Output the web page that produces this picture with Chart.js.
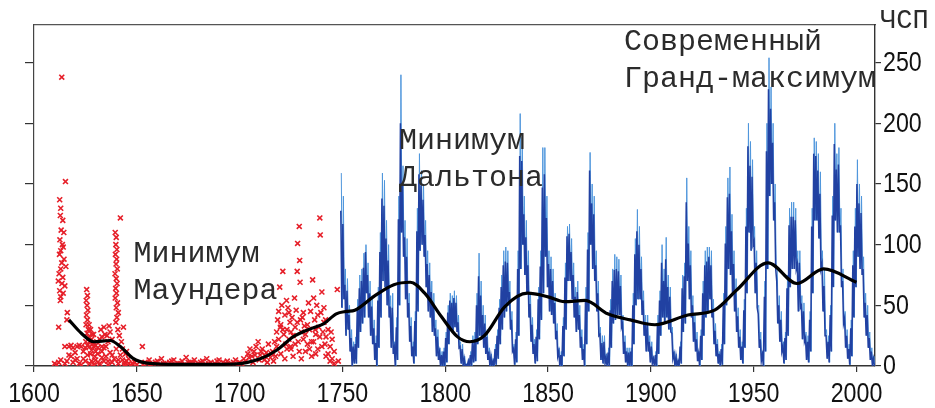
<!DOCTYPE html>
<html>
<head>
<meta charset="utf-8">
<script src="https://cdn.jsdelivr.net/npm/chart.js@4/dist/chart.umd.min.js"></script>
<style>
  html, body { margin: 0; padding: 0; background: #fff; }
  #chart { display: block; }
</style>
</head>
<body>
<canvas id="chart" width="935" height="408"></canvas>
<script>

/**
 *
 * Data
 *
 */

// axis ticks
const X_TICKS = [1600, 1650, 1700, 1750, 1800, 1850, 1900, 1950, 2000];
const Y_TICKS = [0, 50, 100, 150, 200, 250];

// early observations (red crosses), year / number
const redYears = [
  1613.5, 1615.3, 1612.5, 1613, 1612.8, 1614, 1613.2, 1614.5, 1612.6, 1613.8, 1614.2, 1613, 1612.4, 1614.6, 1613.5,
  1615.5, 1613, 1612.2, 1614, 1611.8, 1613.6, 1615, 1612.5, 1614.2, 1613, 1612.8, 1616.2, 1612, 1616,
  1615, 1617, 1619, 1621, 1623, 1625, 1627, 1629, 1631, 1633, 1635, 1618, 1622, 1626, 1630, 1634,
  1625.6, 1626, 1625.4, 1625.8, 1626.2, 1625.5, 1626, 1625.3, 1626.4, 1625.8, 1626.6, 1627, 1628, 1629, 1628.5, 1630, 1627.5, 1629.5,
  1610, 1612, 1616, 1618, 1620, 1622, 1624, 1628, 1631, 1633, 1636, 1638, 1641, 1644, 1646, 1648,
  1634, 1634.5, 1633, 1636, 1637, 1632,
  1642, 1639.5, 1640, 1639.8, 1640.3, 1639.6, 1640.2, 1639.9, 1640.5, 1639.4, 1640, 1640.4, 1639.7, 1640.1,
  1639.5, 1640.6, 1640, 1641, 1640.3, 1639.8, 1640.8, 1641.5, 1643.5, 1642.5, 1643, 1644.5, 1645,
  1652.7, 1654, 1656, 1658, 1660, 1662, 1664, 1666, 1668, 1670, 1672, 1674, 1676, 1678, 1680, 1682, 1684,
  1686, 1688, 1690, 1692, 1694, 1696, 1698, 1700,
  1702, 1704, 1705, 1706, 1707, 1708, 1709, 1710, 1711, 1712, 1713, 1714, 1715,
  1716, 1717, 1718, 1718.5, 1719, 1719.5, 1720, 1720.5, 1721, 1721.5, 1722, 1722.5, 1723, 1723.5, 1724, 1724.5,
  1725, 1725.5, 1726, 1726.7, 1727, 1727.5, 1728, 1728.2, 1728.5, 1729, 1729.2, 1729.4, 1729.6, 1730, 1730.5,
  1731, 1731.5, 1732, 1733,
  1734, 1734.5, 1735, 1735.5, 1736, 1736.5, 1737, 1737.5, 1738, 1738.5, 1739, 1739.2, 1739.5, 1740, 1740.5,
  1741, 1741.5, 1742, 1743, 1744, 1745, 1746, 1747.5, 1748,
  1611, 1613, 1615, 1617, 1619, 1620, 1621, 1623, 1624, 1625, 1626, 1627, 1628, 1629, 1630, 1631, 1632,
  1633, 1634, 1635, 1636, 1637, 1638, 1639, 1640, 1641, 1642, 1643, 1644, 1645, 1646, 1647, 1649, 1650,
  1625.2, 1626.8, 1627.5, 1628.2, 1630.5, 1632.5, 1635.5, 1638, 1636.5,
  1653, 1655, 1657, 1659, 1661, 1663, 1665, 1667, 1669, 1671, 1673, 1675,
  1677, 1679, 1681, 1683, 1685, 1687, 1689, 1691, 1693, 1695, 1697, 1699,
  1701, 1703, 1704.5, 1706.5, 1707.5, 1709.5, 1710.5, 1712.5, 1713.5, 1715.5,
  1716.5, 1717.5, 1718, 1719, 1720, 1721, 1722, 1723, 1724, 1725,
  1726, 1727, 1728, 1729, 1730, 1731, 1732, 1733, 1734, 1735,
  1736, 1737, 1738, 1739, 1740, 1741, 1742, 1743, 1744, 1745,
  1746, 1719.8, 1722.8, 1724.8, 1733.5, 1736.8, 1741.8, 1744.5
];
const redValues = [
  238, 152, 137, 130, 124, 120, 112, 110, 104, 100, 98, 95, 92, 88, 85,
  82, 80, 76, 73, 70, 68, 66, 62, 60, 57, 54, 44, 32, 38,
  16, 16, 15, 16, 16, 15, 16, 16, 15, 16, 16, 17, 17, 17, 17, 15,
  63, 58, 54, 50, 46, 42, 38, 34, 30, 27, 24, 20, 22, 26, 18, 12, 10, 8,
  2, 3, 4, 8, 5, 2, 6, 4, 3, 7, 4, 9, 5, 3, 6, 2,
  32, 26, 24, 20, 28, 22,
  122, 110, 106, 100, 96, 92, 88, 84, 80, 76, 72, 68, 64, 60,
  56, 52, 48, 44, 40, 36, 30, 25, 32, 20, 14, 10, 12,
  16, 3, 5, 2, 4, 6, 2, 3, 5, 2, 4, 7, 3, 5, 2, 4, 6,
  3, 2, 5, 3, 4, 2, 5, 3,
  6, 10, 14, 8, 12, 16, 20, 9, 14, 5, 11, 18, 7,
  12, 20, 28, 38, 45, 65, 34, 50, 78, 26, 42, 18, 30, 48, 22, 36,
  14, 40, 25, 56, 32, 46, 78, 101, 20, 115, 87, 69, 38, 28, 40,
  22, 33, 12, 18,
  30, 45, 20, 71, 56, 38, 26, 50, 14, 32, 122, 108, 44, 61, 28,
  36, 18, 24, 10, 16, 6, 12, 63, 4,
  1, 5, 2, 9, 3, 11, 6, 1, 12, 4, 9, 2, 13, 1, 5, 10, 2,
  12, 4, 8, 1, 11, 3, 6, 14, 2, 9, 5, 1, 4, 2, 1, 3, 1,
  20, 34, 30, 26, 20, 30, 25, 22, 33,
  1, 2, 1, 3, 1, 2, 1, 4, 1, 2, 1, 3,
  2, 1, 3, 1, 2, 1, 4, 1, 2, 1, 3, 1,
  2, 4, 7, 3, 9, 5, 12, 8, 3, 10,
  4, 8, 16, 22, 10, 30, 6, 14, 44, 28,
  8, 18, 36, 12, 6, 44, 26, 34, 14, 8,
  20, 10, 42, 24, 16, 48, 8, 30, 4, 22,
  2, 32, 54, 16, 52, 30, 38, 28
];

// sunspot numbers from 1749 on, one entry per year:
// highest monthly value, upper edge of the dense core, lowest monthly value
const spotStartYear = 1749;
const spotHigh = [
  159, 140, 80, 72, 50, 30, 20, 24, 55, 75, 80, 93, 100, 85, 70, 58, 38, 25, 65, 110,
  159, 153, 120, 100, 58, 60, 20, 40, 140, 240, 165, 120, 105, 60, 40, 20, 45, 130, 175, 161,
  150, 120, 95, 85, 70, 60, 38, 30, 15, 12, 15, 28, 50, 60, 58, 62, 58, 42, 20, 18,
  8, 2, 6, 12, 25, 28, 60, 93, 70, 50, 42, 30, 15, 10, 6, 18, 30, 55, 75, 95,
  98, 95, 70, 45, 18, 28, 95, 208, 190, 140, 120, 95, 60, 40, 22, 30, 65, 95, 180, 180,
  140, 95, 90, 80, 60, 35, 15, 12, 40, 85, 115, 117, 105, 85, 65, 70, 50, 30, 18, 65,
  110, 176, 150, 140, 95, 70, 32, 25, 25, 10, 15, 55, 80, 92, 90, 88, 75, 42, 25, 15,
  15, 15, 60, 105, 129, 115, 90, 62, 42, 42, 25, 20, 8, 12, 42, 62, 100, 80, 106, 75,
  65, 32, 12, 10, 5, 20, 75, 85, 155, 115, 95, 58, 42, 28, 12, 30, 70, 95, 98, 98,
  95, 55, 35, 22, 12, 18, 60, 115, 155, 164, 125, 95, 72, 48, 30, 20, 55, 130, 200, 185,
  170, 115, 95, 50, 28, 12, 70, 200, 254, 230, 200, 150, 80, 58, 45, 20, 28, 75, 130, 135,
  135, 130, 95, 95, 58, 52, 28, 25, 45, 130, 188, 185, 175, 160, 95, 80, 30, 25, 50, 140,
  200, 175, 180, 130, 80, 45, 30, 18, 38, 95, 130, 170, 150, 140, 90, 60, 50, 28, 15, 8
];
const spotCore = [
  128, 117, 67, 62, 42, 23, 16, 18, 46, 64, 70, 81, 94, 75, 60, 49, 31, 19, 54, 94,
  138, 132, 105, 87, 49, 48, 15, 32, 121, 200, 149, 106, 90, 52, 33, 16, 37, 111, 158, 149,
  137, 108, 84, 75, 61, 52, 31, 24, 11, 9, 12, 23, 44, 54, 52, 56, 52, 36, 16, 14,
  6, 1, 4, 9, 20, 22, 50, 74, 58, 42, 35, 24, 12, 8, 4, 14, 25, 48, 65, 83,
  86, 85, 61, 38, 14, 22, 80, 173, 169, 125, 106, 83, 51, 34, 18, 24, 55, 82, 147, 158,
  122, 84, 80, 70, 52, 29, 12, 9, 33, 73, 107, 109, 94, 75, 57, 61, 42, 24, 14, 54,
  96, 161, 134, 125, 83, 60, 26, 19, 20, 7, 11, 46, 70, 79, 80, 78, 66, 35, 20, 12,
  11, 12, 50, 92, 111, 100, 80, 54, 36, 36, 20, 16, 6, 9, 35, 54, 85, 70, 88, 65,
  57, 27, 10, 8, 4, 16, 64, 74, 135, 101, 83, 50, 36, 22, 10, 25, 60, 83, 86, 90,
  83, 47, 29, 18, 10, 14, 50, 101, 139, 142, 111, 84, 62, 41, 24, 16, 46, 115, 181, 165,
  156, 103, 85, 43, 22, 9, 57, 177, 228, 212, 184, 135, 70, 50, 38, 16, 23, 64, 116, 123,
  123, 120, 84, 85, 50, 45, 23, 20, 38, 115, 175, 173, 161, 142, 84, 66, 25, 20, 42, 124,
  183, 162, 166, 116, 70, 39, 25, 14, 31, 83, 115, 150, 134, 126, 80, 52, 42, 23, 12, 6
];
const spotLow = [
  48, 55, 25, 30, 12, 0, 2, 2, 15, 28, 35, 40, 60, 40, 25, 18, 5, 0, 15, 40,
  70, 65, 50, 40, 15, 10, 0, 5, 50, 110, 90, 55, 40, 20, 8, 2, 8, 45, 95, 100,
  90, 65, 45, 40, 28, 25, 8, 5, 0, 0, 0, 3, 18, 30, 28, 32, 28, 15, 2, 0,
  0, 0, 0, 0, 3, 4, 18, 25, 22, 15, 10, 5, 0, 0, 0, 1, 6, 18, 30, 40,
  45, 50, 30, 12, 1, 3, 25, 80, 100, 75, 60, 40, 20, 10, 2, 4, 22, 38, 60, 90,
  65, 45, 42, 35, 22, 8, 0, 0, 8, 30, 70, 70, 55, 40, 28, 30, 15, 5, 0, 18,
  45, 100, 80, 70, 45, 25, 5, 2, 2, 0, 0, 15, 35, 38, 42, 42, 32, 10, 3, 0,
  0, 0, 18, 50, 55, 55, 42, 25, 12, 12, 3, 2, 0, 0, 10, 25, 40, 35, 40, 30,
  28, 6, 0, 0, 0, 2, 28, 35, 70, 55, 40, 20, 12, 4, 0, 5, 25, 40, 45, 55,
  40, 18, 8, 2, 0, 1, 18, 50, 80, 75, 60, 45, 28, 15, 5, 2, 15, 60, 110, 95,
  100, 60, 48, 15, 4, 0, 12, 80, 140, 150, 120, 80, 35, 20, 12, 2, 5, 25, 65, 80,
  80, 80, 45, 48, 22, 20, 5, 3, 12, 60, 120, 120, 105, 80, 45, 25, 6, 3, 12, 65,
  120, 110, 110, 65, 35, 15, 6, 1, 8, 40, 65, 90, 80, 75, 40, 25, 15, 5, 1, 0
];

// smoothed curve (black)
const smoothYears = [
  1617, 1623, 1629, 1637, 1642, 1648, 1655, 1670, 1685, 1697, 1710, 1718, 1726, 1735, 1741, 1747, 1752, 1756,
  1765, 1775, 1783, 1790, 1798, 1806, 1812, 1819, 1829, 1840, 1850, 1858, 1868, 1879, 1890, 1902, 1918, 1931,
  1942, 1957, 1971, 1984, 2000
];
const smoothValues = [
  38, 27, 20, 21, 16, 6.5, 2.4, 1.4, 1.4, 1.6, 6, 13, 24, 31, 35, 43, 45, 46,
  57, 67, 69, 60, 41, 24, 20, 25, 49, 60, 57, 53, 54, 43, 38, 34, 42, 46,
  63, 85, 68, 80, 69
];

// text on the plot
const labels = [
  { lines: ['Минимум', 'Маундера'], year: 1648.4, value: 85.5 },
  { lines: ['Минимум', 'Дальтона'], year: 1777.5, value: 179 },
  { lines: ['Современный', 'Гранд-максимум'], year: 1886.9, value: 260 }
];
const Y_TITLE = 'ЧСП';

/**
 *
 * Build datasets
 *
 */

const COLOR_RED = '#e61f29';
const COLOR_LIGHT_BLUE = '#4f96dc';
const COLOR_DARK_BLUE = '#2141a2';
const TICK_FONT = "27px 'Liberation Sans', Arial, sans-serif";
const TICK_SQUEEZE = 0.86;
const TEXT_FONT = "'Liberation Mono', 'Courier New', monospace";

let redPoints = redYears.map((year, i) => ({ x: year, y: redValues[i] }));

let lightPoints = [];
let corePoints = [];
spotHigh.forEach((high, i) => {
  let year = spotStartYear + i;
  lightPoints.push({ x: year + 0.45, y: high });
  lightPoints.push({ x: year + 0.95, y: spotLow[i] });
  corePoints.push({ x: year + 0.2, y: spotCore[i] });
  corePoints.push({ x: year + 0.7, y: spotLow[i] });
});

let smoothPoints = smoothYears.map((year, i) => ({ x: year, y: smoothValues[i] }));

//
// Text plugin: condensed tick labels, notes, axis title
//
const textPlugin = {
  id: 'plotText',
  afterDraw(chart) {
    let ctx = chart.ctx;
    let xs = chart.scales.x;
    let ys = chart.scales.y;
    ctx.save();

    // tick labels, a little narrower like the original lettering
    ctx.fillStyle = '#111';
    ctx.font = TICK_FONT;
    ctx.textBaseline = 'alphabetic';
    ctx.textAlign = 'center';
    X_TICKS.forEach(v => {
      ctx.save();
      ctx.translate(xs.getPixelForValue(v), xs.top + 36);
      ctx.scale(TICK_SQUEEZE, 1);
      ctx.fillText(String(v), 0, 0);
      ctx.restore();
    });
    ctx.textAlign = 'left';
    ctx.textBaseline = 'middle';
    Y_TICKS.forEach(v => {
      ctx.save();
      ctx.translate(ys.left + 8, ys.getPixelForValue(v) + 1);
      ctx.scale(TICK_SQUEEZE, 1);
      ctx.fillText(String(v), 0, 0);
      ctx.restore();
    });

    // notes
    ctx.fillStyle = '#2b2b2b';
    ctx.font = '30px ' + TEXT_FONT;
    ctx.textBaseline = 'alphabetic';
    labels.forEach(label => {
      let px = xs.getPixelForValue(label.year);
      let py = ys.getPixelForValue(label.value);
      label.lines.forEach((line, k) => {
        ctx.fillText(line, px, py + k * 37);
      });
    });

    // axis title
    ctx.font = '27px ' + TEXT_FONT;
    ctx.fillText(Y_TITLE, ys.left + 5, chart.chartArea.top + 3);
    ctx.restore();
  }
};

/**
 *
 * Chart
 *
 */

new Chart(document.getElementById('chart').getContext('2d'), {
  type: 'scatter',
  data: {
    datasets: [
      {
        data: smoothPoints,
        showLine: true,
        borderColor: '#000',
        borderWidth: 3.2,
        pointRadius: 0,
        cubicInterpolationMode: 'monotone'
      },
      {
        data: corePoints,
        showLine: true,
        borderColor: COLOR_DARK_BLUE,
        borderWidth: 1.5,
        pointRadius: 0
      },
      {
        data: lightPoints,
        showLine: true,
        borderColor: COLOR_LIGHT_BLUE,
        borderWidth: 1,
        pointRadius: 0
      },
      {
        data: redPoints,
        showLine: false,
        pointStyle: 'crossRot',
        pointRadius: 3.5,
        borderColor: COLOR_RED,
        borderWidth: 1.6
      }
    ]
  },
  options: {
    responsive: false,
    animation: false,
    devicePixelRatio: 1,
    layout: { padding: { top: 25, left: 0, right: 0, bottom: 0 } },
    plugins: {
      legend: { display: false },
      tooltip: { enabled: false }
    },
    scales: {
      x: {
        type: 'linear',
        position: 'bottom',
        min: 1600,
        max: 2009,
        afterBuildTicks: scale => { scale.ticks = X_TICKS.map(v => ({ value: v })); },
        afterFit: scale => { scale.height = 42; },
        grid: { drawOnChartArea: false, drawTicks: true, tickLength: 6, color: '#333', lineWidth: 1.2 },
        border: { display: true, color: '#333', width: 1.4 },
        ticks: { display: false }
      },
      xTop: {
        type: 'linear',
        position: 'top',
        min: 1600,
        max: 2009,
        grid: { drawOnChartArea: false, drawTicks: false },
        border: { display: true, color: '#555', width: 1.2 },
        ticks: { display: false }
      },
      y: {
        type: 'linear',
        position: 'right',
        min: 0,
        max: 281,
        afterBuildTicks: scale => { scale.ticks = Y_TICKS.map(v => ({ value: v })); },
        afterFit: scale => { scale.width = 60; },
        grid: { drawOnChartArea: false, drawTicks: true, tickLength: 6, color: '#333', lineWidth: 1.2 },
        border: { display: true, color: '#333', width: 1.4 },
        ticks: { display: false }
      },
      yLeft: {
        type: 'linear',
        position: 'left',
        min: 0,
        max: 281,
        afterBuildTicks: scale => { scale.ticks = Y_TICKS.map(v => ({ value: v })); },
        afterFit: scale => { scale.width = 34; },
        grid: { drawOnChartArea: false, drawTicks: true, tickLength: 9, color: '#333', lineWidth: 1.2 },
        border: { display: true, color: '#444', width: 1.2 },
        ticks: { display: false }
      }
    }
  },
  plugins: [textPlugin]
});

</script>
</body>
</html>
